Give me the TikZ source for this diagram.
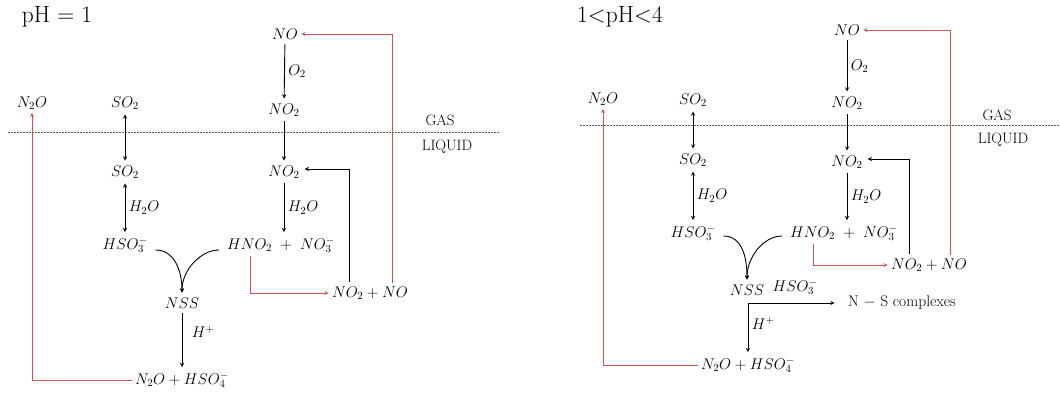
\RequirePackage{fix-cm}
\documentclass[tikz,border=0pt]{standalone}
\usetikzlibrary{calc}
\definecolor{redline}{RGB}{204,86,86}
\tikzset{>=stealth,
  arr/.style={->,line width=.9pt,shorten >=1.5pt,shorten <=1.5pt},
  redarr/.style={->,draw=redline,line width=.8pt},
  gasline/.style={gray!70!black,dash pattern=on 1.6pt off 1.4pt,line width=.6pt},
  titl/.style={font=\fontsize{23.5}{27}\selectfont},
  phase/.style={font=\fontsize{15}{17}\selectfont}}

\begin{document}
\begin{tikzpicture}[x=1pt,y=-1pt,font=\fontsize{15.5}{18}\selectfont]
\useasboundingbox (0,0) rectangle (1060,394);

% pH = 1
\node[titl] (title1) at (57,17) {pH = 1};
\node (no1) at (285,34) {$NO$};
\node (noa1) at (284,110) {$NO_2$};
\node (nob1) at (284,172) {$NO_2$};
\node (hno1) at (281,245) {$HNO_2\ +\ NO_3^-$};
\node (nn1) at (370,293) {$NO_2+NO$};
\node (ngas1) at (32,103) {$N_2O$};
\node (nprod1) at (182,380) {$N_2O+HSO_4^-$};
\node (soa1) at (125,103) {$SO_2$};
\node (sob1) at (125,172) {$SO_2$};
\node (hso1) at (125,245) {$HSO_3^-$};
\node (nss1) at (182,303) {$NSS$};
\node[phase] (gas1) at (440,120) {GAS};
\node[phase] (liq1) at (447,147) {LIQUID};
\draw[gasline] (8,132) -- (500,132);

\draw[arr] (no1) -- node[right]{$O_2$} (noa1);
\draw[arr] (noa1) -- (nob1);
\draw[arr] (nob1) -- node[right]{$H_2O$} (nob1 |- hno1.north);
\draw[arr,<->] (soa1) -- (sob1);
\draw[arr,<->] (sob1) -- node[right]{$H_2O$} (hso1);
\draw[arr] ($(hso1.east)+(3,5)$) .. controls +(20,0) and +(0,-24) .. (nss1.north);
\draw[arr] ($(hno1.west)+(-3,5)$) .. controls +(-20,0) and +(0,-24) .. (nss1.north);
\draw[arr] (nss1) -- node[right=6pt,pos=.35]{$H^+$} (nprod1);
\draw[arr] ([xshift=-21pt]nn1.north) |- ([yshift=3pt]nob1.east);
\draw[redarr] ([xshift=22pt]nn1.north) |- (no1.east);
\draw[redarr] ([xshift=-31pt]hno1.south) |- (nn1.west);
\draw[redarr] (nprod1.west) -| (ngas1.south);

% 1 < pH < 4
\node[titl] (title2) at (620,17) {1<pH<4};
\node (no2) at (847,30) {$NO$};
\node (noa2) at (847,103) {$NO_2$};
\node (nob2) at (847,162) {$NO_2$};
\node (hno2) at (844,233) {$HNO_2\ +\ NO_3^-$};
\node (nn2) at (929,265) {$NO_2+NO$};
\node (ngas2) at (603,99) {$N_2O$};
\node (nprod2) at (748,365) {$N_2O+HSO_4^-$};
\node (soa2) at (693,100) {$SO_2$};
\node (sob2) at (693,160) {$SO_2$};
\node (hso2) at (693,233) {$HSO_3^-$};
\node (nss2) at (747,290) {$NSS$};
\node (hsl2) at (795,287) {$HSO_3^-$};
\node (nsc2) at (902,303) {N $-$ S complexes};
\node[phase] (gas2) at (997,115) {GAS};
\node[phase] (liq2) at (1003,140) {LIQUID};
\draw[gasline] (580,125) -- (1060,125);

\draw[arr] (no2) -- node[right]{$O_2$} (noa2);
\draw[arr] (noa2) -- (nob2);
\draw[arr] (nob2) -- node[right]{$H_2O$} (nob2 |- hno2.north);
\draw[arr,<->] (soa2) -- (sob2);
\draw[arr,<->] (sob2) -- node[right]{$H_2O$} (hso2);
\draw[arr] ($(hso2.east)+(3,3)$) .. controls +(20,0) and +(0,-24) .. (nss2.north);
\draw[arr] ($(hno2.west)+(-3,3)$) .. controls +(-20,0) and +(0,-24) .. (nss2.north);
\draw[arr,<->,shorten <=10pt] (nsc2.west) -| node[right,pos=.7]{$H^+$} (nprod2.north);
\draw[arr] ([xshift=-20pt]nn2.north) |- ([yshift=3pt]nob2.east);
\draw[redarr] ([xshift=21pt]nn2.north) |- (no2.east);
\draw[redarr] ([xshift=-31pt]hno2.south) |- (nn2.west);
\draw[redarr] (nprod2.west) -| (ngas2.south);

\end{tikzpicture}
\end{document}
